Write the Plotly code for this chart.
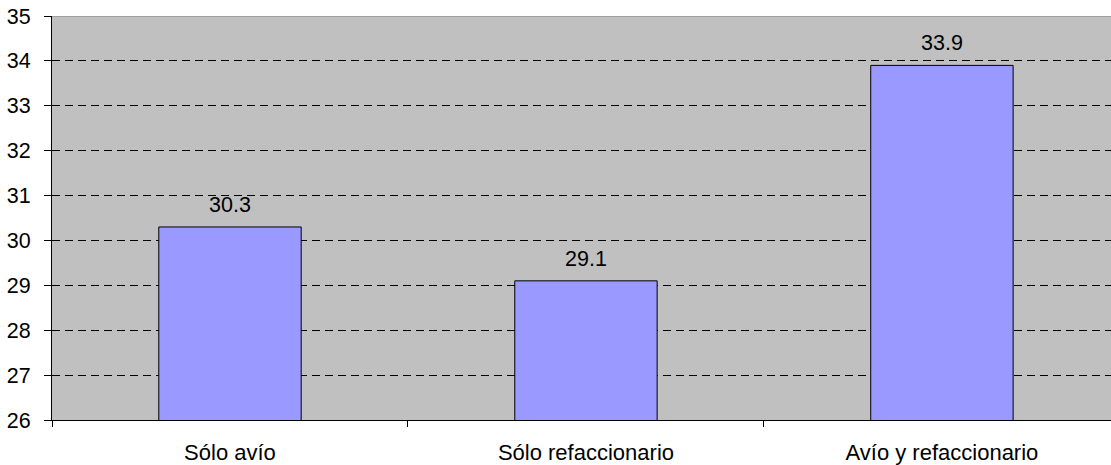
import plotly.graph_objects as go

# Chart data
categories = ["Sólo avío", "Sólo refaccionario", "Avío y refaccionario"]
values = [30.3, 29.1, 33.9]
y_ticks = [26, 27, 28, 29, 30, 31, 32, 33, 34, 35]

FONT = "Liberation Sans, Arial, sans-serif"
FONT_SIZE = 21.5

fig = go.Figure(
    go.Bar(
        x=categories,
        y=values,
        width=0.4,
        marker=dict(color="#9999FF", line=dict(color="#000000", width=1)),
        cliponaxis=False,
    )
)

# Value labels above each bar
for cat, val in zip(categories, values):
    fig.add_annotation(
        x=cat, y=val, xref="x", yref="y",
        text=f"{val:.1f}",
        showarrow=False,
        yanchor="bottom",
        yshift=8,
        font=dict(family=FONT, size=FONT_SIZE, color="#000000"),
    )

fig.update_layout(
    width=1111,
    height=465,
    margin=dict(l=52, r=0, t=16, b=43),
    paper_bgcolor="#FFFFFF",
    plot_bgcolor="#C0C0C0",
    showlegend=False,
    font=dict(family=FONT, size=FONT_SIZE, color="#000000"),
)

fig.update_xaxes(
    type="category",
    range=[-0.5, 2.475],
    showline=True,
    linecolor="#000000",
    linewidth=1,
    ticks="outside",
    tickson="boundaries",
    ticklen=6,
    tickcolor="#000000",
    showgrid=False,
    ticklabelstandoff=13,
    tickfont=dict(family=FONT, size=22, color="#000000"),
)

fig.update_yaxes(
    range=[26, 35],
    tickvals=y_ticks,
    showline=True,
    linecolor="#000000",
    linewidth=1,
    ticks="outside",
    ticklen=7,
    tickcolor="#000000",
    showgrid=True,
    gridcolor="#000000",
    gridwidth=1,
    griddash="8px,5px",
    zeroline=False,
    ticklabelstandoff=9,
    tickfont=dict(family=FONT, size=FONT_SIZE, color="#000000"),
)

# Solid grey frame line along the top of the plot area
fig.add_shape(
    type="line", xref="paper", yref="y",
    x0=0, x1=1, y0=35, y1=35,
    line=dict(color="#808080", width=1),
)

fig.write_html("out.html")
